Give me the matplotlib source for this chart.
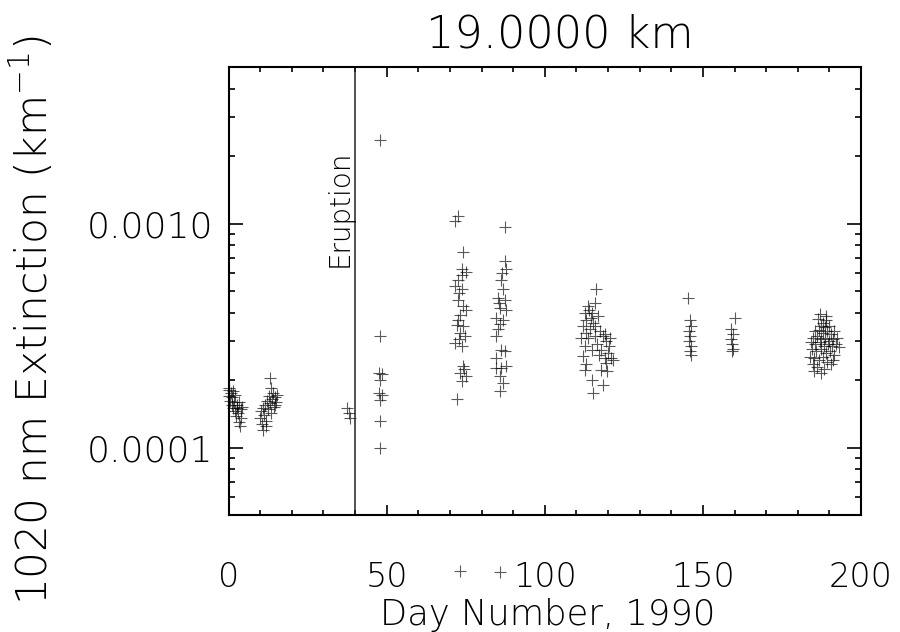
import matplotlib
matplotlib.use("Agg")
import matplotlib.pyplot as plt
from matplotlib.ticker import LogLocator, FixedLocator, MultipleLocator, NullFormatter

# ---------------- data ----------------
day_a = [0.0, 0.3, 0.5, 0.8, 1.0, 1.2, 1.5, 1.8, 2.0, 2.2, 2.5, 2.8, 3.0, 3.2, 3.5, 3.8, 4.0, 0.2, 1.3, 2.6, 3.3, 4.2]
ext_a = [1.8e-4, 1.7e-4, 1.62e-4, 1.75e-4, 1.55e-4, 1.68e-4, 1.5e-4, 1.6e-4, 1.45e-4, 1.72e-4, 1.38e-4, 1.55e-4,
         1.42e-4, 1.3e-4, 1.25e-4, 1.48e-4, 1.35e-4, 1.85e-4, 1.78e-4, 1.5e-4, 1.6e-4, 1.52e-4]

day_b = [10.0, 10.3, 10.6, 11.0, 11.3, 11.6, 11.9, 12.2, 12.5, 12.8, 13.0, 13.2, 13.5, 13.8, 14.0, 14.3, 14.6,
         15.0, 15.3, 12.0, 13.3, 14.8, 10.8]
ext_b = [1.35e-4, 1.45e-4, 1.28e-4, 1.5e-4, 1.4e-4, 1.55e-4, 1.32e-4, 1.62e-4, 1.48e-4, 1.7e-4, 2.05e-4, 1.58e-4,
         1.85e-4, 1.65e-4, 1.75e-4, 1.52e-4, 1.68e-4, 1.6e-4, 1.72e-4, 1.25e-4, 1.42e-4, 1.55e-4, 1.2e-4]

day_c = [37.5, 38.0, 38.3]
ext_c = [1.5e-4, 1.42e-4, 1.36e-4]

day_d = [48.0, 48.0, 47.5, 48.5, 48.0, 47.5, 48.5, 47.8, 48.0, 48.0]
ext_d = [2.35e-3, 3.15e-4, 2.15e-4, 2.12e-4, 2.0e-4, 1.75e-4, 1.72e-4, 1.63e-4, 1.32e-4, 1.0e-4]

day_e1 = [72.5, 71.6, 74.1, 73.7, 75.2, 72.5, 71.6, 73.7, 72.5, 74.1, 75.2, 73.2, 72.1, 74.1, 73.2, 74.7, 71.6,
          73.7, 74.2, 73.2, 75.2, 73.7, 72.1, 72.8, 73.0, 74.5, 72.6, 73.9, 73.2]
ext_e1 = [1.08e-3, 1.03e-3, 7.45e-4, 6.24e-4, 6.1e-4, 5.62e-4, 5.25e-4, 5.08e-4, 4.58e-4, 4.27e-4, 4.13e-4,
          3.92e-4, 3.54e-4, 3.48e-4, 3.26e-4, 3.14e-4, 2.93e-4, 2.83e-4, 2.31e-4, 2.16e-4, 2.08e-4, 1.98e-4,
          1.64e-4, 4.9e-4, 3.05e-4, 2.25e-4, 3.7e-4, 5.9e-4, 2.8e-5]

day_e2 = [87.4, 87.4, 87.9, 86.3, 86.8, 85.2, 87.4, 85.8, 87.9, 84.7, 86.8, 85.2, 84.7, 86.3, 87.4, 84.7, 86.3,
          84.7, 87.9, 85.8, 86.8, 85.8, 86.0, 85.5, 86.5, 85.8]
ext_e2 = [9.7e-4, 6.8e-4, 6.24e-4, 5.62e-4, 5.08e-4, 4.66e-4, 4.58e-4, 4.2e-4, 4.13e-4, 3.79e-4, 3.73e-4,
          3.37e-4, 3.14e-4, 2.74e-4, 2.7e-4, 2.52e-4, 2.27e-4, 2.27e-4, 2.31e-4, 2.08e-4, 1.94e-4, 1.78e-4,
          3.55e-4, 4.4e-4, 6.0e-4, 2.77e-5]

day_f = [116.3, 115.8, 113.7, 112.7, 114.8, 116.9, 113.2, 115.3, 112.1, 114.2, 117.4, 111.6, 113.7, 115.8, 118.4,
         120.6, 119.5, 112.7, 114.8, 117.9, 120.0, 112.1, 119.0, 121.1, 113.2, 119.5, 112.7, 117.9, 114.8, 118.4,
         115.3, 114.0, 116.0, 118.9, 120.3, 113.0, 116.5, 119.8, 121.5, 114.5, 117.0]
ext_f = [5.08e-4, 4.43e-4, 4.27e-4, 3.99e-4, 3.99e-4, 3.85e-4, 3.73e-4, 3.6e-4, 3.48e-4, 3.37e-4, 3.3e-4, 3.09e-4,
         3.09e-4, 3.14e-4, 3.14e-4, 3.09e-4, 2.98e-4, 2.83e-4, 2.74e-4, 2.74e-4, 2.65e-4, 2.56e-4, 2.52e-4, 2.52e-4,
         2.35e-4, 2.39e-4, 2.23e-4, 2.23e-4, 2.01e-4, 1.91e-4, 1.75e-4, 4.1e-4, 3.5e-4, 3.2e-4, 2.85e-4, 3.25e-4,
         2.9e-4, 2.2e-4, 2.45e-4, 3.8e-4, 2.6e-4]

day_g = [145.3, 145.8, 146.2, 145.6, 146.0, 145.7, 146.3, 145.9, 146.1,
         160.0, 159.0, 159.4, 158.8, 159.2, 159.6, 159.1]
ext_g = [4.66e-4, 3.7e-4, 3.48e-4, 3.3e-4, 3.14e-4, 3.0e-4, 2.85e-4, 2.7e-4, 2.6e-4,
         3.79e-4, 3.37e-4, 3.2e-4, 3.05e-4, 2.9e-4, 2.75e-4, 2.7e-4]

day_h = [186.5, 188.0, 189.0, 187.2, 188.6, 190.0, 185.5, 186.8, 187.9, 189.2, 190.5, 191.5, 184.8, 186.0, 187.5,
         188.5, 189.8, 191.0, 192.3, 184.2, 185.6, 186.9, 188.2, 189.5, 190.8, 192.0, 193.0, 184.5, 185.9, 187.3,
         188.8, 190.2, 191.6, 184.0, 185.2, 186.6, 188.0, 189.4, 191.0, 184.7, 186.2, 188.4, 190.5, 185.0, 187.5,
         189.0, 187.0]
ext_h = [3.75e-4, 3.6e-4, 3.7e-4, 3.5e-4, 3.45e-4, 3.5e-4, 3.3e-4, 3.35e-4, 3.25e-4, 3.3e-4, 3.2e-4, 3.3e-4,
         3.1e-4, 3.15e-4, 3.05e-4, 3.1e-4, 3.0e-4, 3.05e-4, 3.1e-4, 2.95e-4, 2.9e-4, 2.95e-4, 2.85e-4, 2.9e-4,
         2.85e-4, 2.9e-4, 2.8e-4, 2.75e-4, 2.7e-4, 2.75e-4, 2.65e-4, 2.7e-4, 2.6e-4, 2.55e-4, 2.5e-4, 2.45e-4,
         2.55e-4, 2.4e-4, 2.45e-4, 2.35e-4, 2.3e-4, 2.25e-4, 2.35e-4, 2.2e-4, 2.15e-4, 3.85e-4, 3.95e-4]

eruption_day = 40
x_ticks = [0, 50, 100, 150, 200]
y_ticks = [1e-4, 1e-3]
y_ticklabels = ["0.0001", "0.0010"]
title = "19.0000 km"
xlabel = "Day Number, 1990"
ylabel = "1020 nm Extinction (km$^{-1}$)"

# ---------------- plot ----------------
plt.rcParams['font.family'] = ['DejaVu Sans']
plt.rcParams['font.weight'] = 'light'
plt.rcParams['mathtext.fontset'] = 'dejavusans'

fig = plt.figure(figsize=(9.0, 6.32), dpi=100)
ax = fig.add_axes([228.5 / 900, 1 - 515 / 632, (861 - 228.5) / 900, (515 - 67) / 632])

days = day_a + day_b + day_c + day_d + day_e1 + day_e2 + day_f + day_g + day_h
exts = ext_a + ext_b + ext_c + ext_d + ext_e1 + ext_e2 + ext_f + ext_g + ext_h
ax.plot(days, exts, linestyle='none', marker='+', markersize=8.5, markeredgewidth=0.8,
        color='black', alpha=0.65, clip_on=False)

ax.set_yscale('log')
ax.set_xlim(0, 200)
ax.set_ylim(5e-5, 5e-3)

ax.axvline(eruption_day, color='#222222', linewidth=1.1)
ax.text(eruption_day - 0.3, 6.4e-4, "Eruption", rotation=90, ha='right', va='bottom',
        fontsize=20, color='black')

ax.xaxis.set_major_locator(FixedLocator(x_ticks))
ax.xaxis.set_minor_locator(MultipleLocator(10))
ax.yaxis.set_major_locator(FixedLocator(y_ticks))
ax.set_yticklabels(y_ticklabels)
ax.yaxis.set_minor_locator(LogLocator(base=10, subs=range(2, 10)))
ax.yaxis.set_minor_formatter(NullFormatter())

ax.tick_params(axis='both', which='both', direction='in', top=True, right=True, colors='black')
ax.tick_params(axis='x', which='major', length=7, width=1.2, pad=33, labelsize=24)
ax.tick_params(axis='x', which='minor', length=3.5, width=1.2)
ax.tick_params(axis='y', which='major', length=10, width=1.2, pad=11, labelsize=26)
ax.tick_params(axis='y', which='minor', length=4.5, width=1.2)
for s in ax.spines.values():
    s.set_linewidth(1.5)

fig.text(0.622, 1 - 47 / 632, title, ha='center', va='baseline', fontsize=32)
fig.text(548 / 900, 1 - 625 / 632, xlabel, ha='center', va='baseline', fontsize=25.5)
fig.text(0.036, 1 - 320 / 632, ylabel, ha='center', va='center', rotation=90, fontsize=30.5)

fig.savefig("out.png", dpi=100)
